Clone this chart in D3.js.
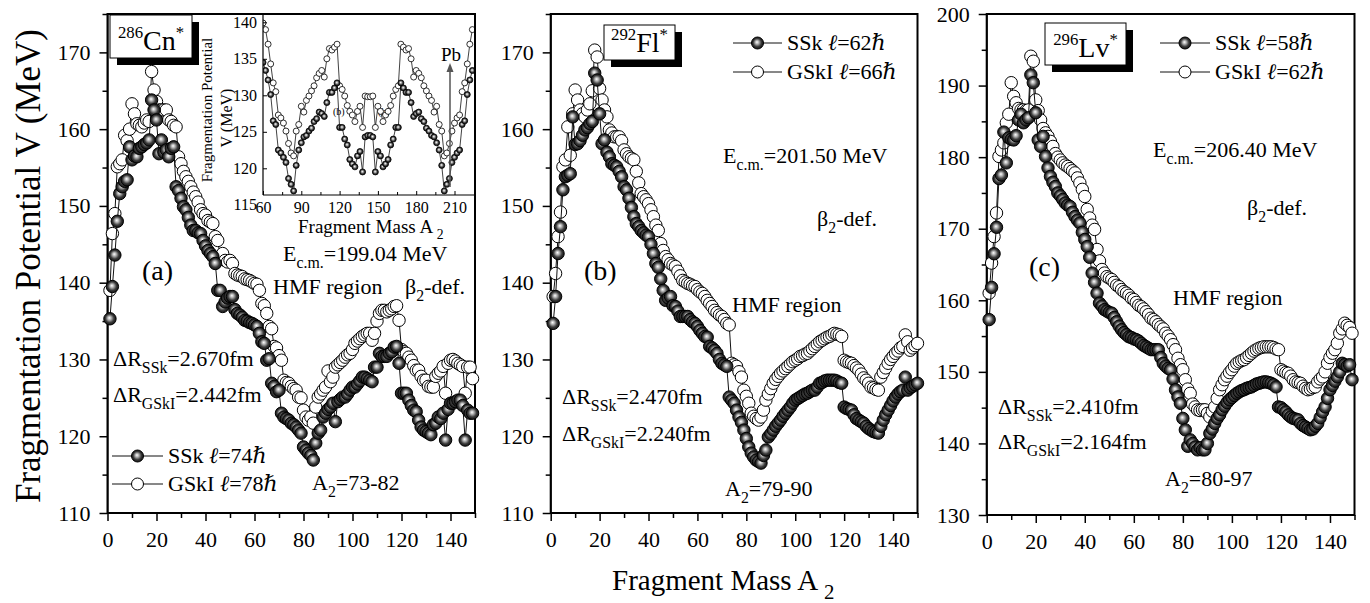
<!DOCTYPE html>
<html>
<head>
<meta charset="utf-8">
<script src="https://cdn.jsdelivr.net/npm/d3@7"></script>
<style>
  body { margin: 0; background: #fff; }
  svg text { font-family: "Liberation Serif", "Times New Roman", "DejaVu Serif", serif; fill: #000; }
</style>
</head>
<body>
<div id="chart"></div>
<script>
// fragment mass A2 = 1 .. 149 (150 for panel b)
const massA = d3.range(1, 150);
const massB = d3.range(1, 151);

// panel (a) 286Cn*
const aSSk = [
  135.3, 139.5, 143.6, 148.0, 151.6, 152.5, 153.2, 153.4, 157.7, 156.0,
  156.5, 156.4, 157.5, 157.7, 158.0, 158.2, 158.6, 163.8, 162.5, 161.2,
  156.8, 158.6, 157.0, 157.3, 156.4, 157.5, 157.7, 152.5, 152.0, 151.0,
  149.9, 149.5, 148.5, 147.5, 146.8, 146.8, 146.5, 146.4, 145.5, 144.8,
  144.2, 143.8, 143.4, 142.5, 139.0, 139.0, 136.9, 137.5, 138.0, 138.2,
  138.2, 136.5, 136.0, 135.8, 135.5, 135.1, 135.0, 134.8, 134.7, 134.5,
  134.3, 133.4, 132.3, 132.1, 129.9, 130.1, 126.9, 126.5, 125.8, 126.0,
  123.0, 122.5, 122.3, 122.1, 121.7, 121.5, 121.2, 120.8, 120.4, 118.6,
  118.2, 117.8, 117.5, 116.9, 119.1, 120.4, 120.8, 122.5, 123.0, 123.5,
  123.8, 124.3, 121.9, 124.5, 124.8, 125.1, 125.1, 125.5, 126.0, 126.4,
  126.4, 126.8, 127.2, 127.7, 127.7, 127.5, 127.3, 127.1, 129.0, 129.0,
  130.8, 130.4, 130.4, 130.4, 130.8, 131.0, 131.6, 131.7, 129.5, 125.6,
  125.6, 125.6, 124.7, 124.0, 123.4, 123.2, 122.1, 121.2, 120.8, 120.6,
  120.4, 120.2, 121.5, 121.7, 122.5, 122.3, 123.0, 119.5, 123.5, 124.3,
  124.3, 124.5, 124.7, 124.7, 124.0, 119.5, 123.4, 123.0, 123.0
];
const aGSkI = [
  139.0, 146.4, 149.0, 155.1, 155.5, 156.0, 159.2, 158.5, 160.0, 163.3,
  162.0, 160.7, 160.5, 160.3, 160.8, 161.2, 161.0, 167.5, 165.1, 163.6,
  162.5, 162.5, 162.5, 162.5, 161.2, 161.0, 160.5, 160.3, 156.4, 155.5,
  154.5, 153.8, 153.2, 152.5, 151.8, 151.2, 150.5, 149.5, 149.0, 148.8,
  148.1, 147.9, 147.7, 146.0, 145.5, 143.4, 143.8, 142.9, 142.7, 142.9,
  142.5, 141.2, 141.0, 140.9, 140.8, 140.5, 140.4, 140.3, 140.1, 139.9,
  139.8, 139.0, 137.3, 137.0, 136.0, 134.3, 134.0, 131.7, 131.5, 130.5,
  129.9, 127.3, 127.0, 126.9, 126.5, 126.2, 126.0, 125.1, 125.0, 123.4,
  122.5, 122.1, 122.5, 121.7, 123.8, 125.1, 125.5, 126.0, 126.4, 128.5,
  127.1, 127.7, 129.0, 129.3, 129.6, 129.9, 130.3, 130.6, 130.8, 131.3,
  132.1, 132.4, 132.7, 133.0, 133.2, 133.4, 133.4, 132.5, 133.4, 135.0,
  136.0, 136.4, 136.4, 136.2, 136.4, 136.6, 136.9, 137.0, 135.1, 131.3,
  131.0, 130.8, 130.3, 129.9, 129.2, 128.6, 128.6, 127.8, 127.3, 127.3,
  126.5, 126.4, 126.4, 127.8, 128.2, 128.5, 129.1, 125.6, 129.5, 129.9,
  130.0, 129.8, 129.5, 129.3, 129.1, 125.6, 129.0, 129.0, 127.5
];

// panel (b) 292Fl*
const bSSk = [
  134.7, 138.2, 143.8, 147.3, 152.1, 153.8, 154.0, 154.2, 161.6, 158.0,
  158.1, 158.5, 159.2, 159.9, 160.2, 160.7, 161.0, 167.3, 166.4, 162.0,
  158.1, 158.6, 157.0, 156.4, 155.5, 155.3, 155.1, 154.5, 153.8, 152.5,
  152.1, 151.0, 149.8, 148.6, 147.7, 147.3, 146.8, 146.5, 146.2, 146.0,
  145.0, 143.8, 142.5, 142.0, 140.5, 139.0, 137.7, 138.0, 138.2, 137.0,
  136.9, 136.3, 135.6, 135.6, 135.6, 135.6, 135.2, 134.9, 134.7, 134.3,
  133.8, 133.4, 133.0, 132.9, 131.7, 131.5, 131.2, 130.8, 130.0, 129.5,
  129.3, 129.1, 125.1, 124.7, 124.3, 123.4, 122.5, 121.8, 120.8, 119.7,
  118.6, 117.8, 117.3, 116.9, 116.7, 116.5, 117.5, 118.2, 119.9, 120.3,
  120.8, 121.3, 121.7, 122.1, 122.6, 123.0, 123.4, 123.8, 124.3, 124.7,
  124.9, 125.1, 125.3, 125.5, 125.6, 125.8, 126.0, 126.0, 126.4, 126.9,
  127.0, 127.2, 127.3, 127.3, 127.3, 127.3, 127.2, 127.0, 126.9, 123.8,
  123.6, 123.5, 123.4, 122.8, 122.3, 122.1, 121.9, 121.7, 121.3, 121.0,
  120.8, 120.6, 120.5, 120.4, 121.3, 122.1, 122.8, 123.4, 124.0, 124.6,
  125.1, 125.5, 125.8, 126.0, 127.7, 126.0, 126.3, 126.5, 126.7, 126.9
];
const bGSkI = [
  138.2, 141.2, 146.0, 149.2, 155.1, 156.0, 160.3, 156.6, 162.0, 165.1,
  163.8, 162.5, 162.0, 161.6, 162.5, 163.3, 165.0, 170.3, 169.4, 165.3,
  163.8, 162.5, 161.6, 159.9, 159.5, 159.0, 159.0, 159.0, 158.5, 157.3,
  156.8, 156.4, 156.2, 156.0, 154.5, 153.0, 151.6, 151.2, 150.8, 150.3,
  149.5, 148.6, 147.5, 146.8, 145.1, 144.2, 143.4, 143.0, 142.5, 142.3,
  142.1, 141.5, 140.9, 140.3, 140.1, 139.9, 139.8, 139.6, 139.5, 139.1,
  138.8, 138.6, 138.2, 137.7, 137.3, 136.9, 136.4, 136.1, 135.8, 135.6,
  135.2, 134.7, 134.5, 129.5, 129.3, 129.1, 128.4, 127.7, 126.0, 125.2,
  124.3, 123.0, 122.6, 122.3, 122.1, 122.5, 123.4, 124.7, 125.5, 126.2,
  126.9, 127.4, 127.8, 128.2, 128.5, 128.8, 129.1, 129.4, 129.7, 129.9,
  130.1, 130.4, 130.5, 130.7, 130.8, 131.1, 131.4, 131.7, 132.0, 132.3,
  132.5, 132.7, 132.9, 133.0, 133.2, 133.4, 133.3, 133.2, 133.0, 129.9,
  129.7, 129.6, 129.5, 129.2, 128.9, 128.6, 128.1, 127.6, 127.3, 126.9,
  126.4, 126.3, 126.1, 126.0, 127.7, 128.3, 128.9, 129.5, 130.0, 130.4,
  130.8, 131.1, 131.5, 131.7, 133.2, 132.3, 131.2, 131.5, 131.8, 132.1
];

// panel (c) 296Lv*
const cSSk = [
  157.3, 161.8, 166.5, 170.2, 177.0, 177.5, 183.5, 179.2, 182.7, 182.5,
  182.4, 183.0, 185.2, 186.0, 184.8, 185.2, 185.5, 191.5, 190.4, 186.2,
  182.4, 181.5, 182.9, 180.1, 178.5, 177.3, 176.5, 175.9, 175.0, 174.6,
  174.1, 173.6, 173.3, 173.1, 172.3, 171.7, 171.2, 170.8, 169.5, 168.5,
  167.5, 166.0, 163.8, 162.5, 161.0, 159.6, 159.2, 158.7, 158.5, 158.3,
  158.2, 157.6, 157.0, 156.4, 155.9, 155.5, 155.2, 154.9, 154.8, 154.6,
  154.5, 154.3, 154.0, 153.7, 153.5, 153.3, 153.1, 153.1, 153.1, 153.1,
  152.0, 151.2, 150.8, 150.5, 150.3, 149.0, 147.5, 146.5, 145.6, 143.5,
  141.9, 139.6, 140.5, 140.0, 139.5, 139.1, 139.4, 139.1, 139.1, 140.0,
  141.4, 142.0, 142.8, 143.5, 144.0, 144.7, 145.2, 145.7, 146.1, 146.4,
  146.7, 147.0, 147.2, 147.4, 147.5, 147.7, 147.8, 147.9, 148.1, 148.3,
  148.4, 148.5, 148.6, 148.6, 148.5, 148.4, 148.2, 147.9, 145.1, 145.0,
  144.7, 144.4, 144.0, 143.7, 143.5, 143.4, 143.3, 142.8, 142.5, 142.3,
  142.1, 141.9, 142.0, 142.4, 142.8, 143.6, 144.4, 145.1, 146.3, 147.5,
  148.1, 148.7, 149.3, 150.0, 151.2, 151.0, 150.8, 151.0, 148.9
];
const cGSkI = [
  161.0, 165.2, 168.9, 172.2, 180.1, 181.0, 182.0, 184.8, 186.0, 190.4,
  188.5, 187.6, 186.8, 186.6, 186.6, 186.5, 186.6, 194.1, 193.4, 188.0,
  186.5, 185.2, 184.0, 183.4, 182.9, 182.2, 181.5, 180.5, 180.0, 179.6,
  179.2, 178.9, 178.7, 178.4, 178.1, 177.8, 177.1, 176.4, 175.5, 174.5,
  172.7, 171.5, 170.5, 169.9, 167.1, 165.5, 164.3, 163.8, 163.3, 163.1,
  162.9, 162.5, 162.1, 161.9, 161.5, 161.2, 161.0, 160.7, 160.3, 160.1,
  159.7, 159.3, 159.1, 158.8, 158.4, 158.0, 157.5, 157.3, 157.0, 156.6,
  156.3, 156.0, 155.4, 155.0, 154.5, 153.8, 153.1, 151.9, 151.0, 150.3,
  148.9, 147.6, 147.0, 145.5, 145.1, 144.7, 144.6, 144.7, 144.7, 144.2,
  143.7, 144.5, 145.1, 146.3, 147.5, 148.2, 148.9, 149.4, 149.9, 150.3,
  150.8, 151.2, 151.4, 151.6, 151.7, 152.0, 152.3, 152.6, 152.9, 153.1,
  153.3, 153.4, 153.5, 153.5, 153.5, 153.5, 153.4, 153.2, 153.1, 150.3,
  150.1, 149.9, 149.8, 149.4, 148.9, 148.6, 148.5, 148.4, 148.0, 147.7,
  147.5, 147.6, 147.8, 147.9, 148.6, 149.0, 149.3, 150.0, 151.2, 152.0,
  152.6, 153.1, 154.0, 155.4, 156.0, 156.8, 156.5, 156.2, 155.4
];

// inset of panel (a): A2 = 60 .. 224, step 2
const insetMass = d3.range(60, 226, 2);
const insetGSkI = [
  139.9, 139.0, 137.0, 134.3, 131.7, 130.5, 127.3, 126.9, 126.2, 125.1,
  123.4, 122.1, 121.7, 125.1, 126.0, 128.5, 127.7, 129.3, 129.9, 130.6,
  131.3, 132.4, 133.0, 133.4, 132.5, 135.0, 136.4, 136.2, 136.6, 137.0,
  131.3, 130.8, 129.9, 128.6, 127.8, 127.3, 126.4, 127.8, 128.5, 125.6,
  129.9, 129.8, 129.8, 129.9, 125.6, 128.5, 127.8, 126.4, 127.3, 127.8,
  128.6, 129.9, 130.8, 131.3, 137.0, 136.6, 136.2, 136.4, 135.0, 132.5,
  133.4, 133.0, 132.4, 131.3, 130.6, 129.9, 129.3, 127.7, 128.5, 126.0,
  125.1, 121.7, 122.1, 123.4, 125.1, 126.2, 126.9, 127.3, 130.5, 131.7,
  134.3, 137.0, 139.0
];
const insetSSk = [
  134.5, 133.4, 132.1, 130.1, 126.5, 126.0, 122.5, 122.1, 121.5, 120.8,
  118.6, 117.8, 116.9, 120.4, 122.5, 123.5, 124.3, 124.5, 125.1, 125.5,
  126.4, 126.8, 127.7, 127.5, 127.1, 129.0, 130.4, 130.4, 131.0, 131.7,
  125.6, 125.6, 124.0, 123.2, 121.2, 120.6, 120.2, 121.7, 122.3, 119.5,
  124.3, 124.5, 124.5, 124.3, 119.5, 122.3, 121.7, 120.2, 120.6, 121.2,
  123.2, 124.0, 125.6, 125.6, 131.7, 131.0, 130.4, 130.4, 129.0, 127.1,
  127.5, 127.7, 126.8, 126.4, 125.5, 125.1, 124.5, 124.3, 123.5, 122.5,
  120.4, 116.9, 117.8, 118.6, 120.8, 121.5, 122.1, 122.5, 126.0, 126.5,
  130.1, 132.1, 133.4
];

// ticks
const xTicks = [0, 20, 40, 60, 80, 100, 120, 140];
const xMinor = [10, 30, 50, 70, 90, 110, 130, 150];
const yTicksAB = [110, 120, 130, 140, 150, 160, 170];
const yMinorAB = [115, 125, 135, 145, 155, 165, 175];
const yTicksC = [130, 140, 150, 160, 170, 180, 190, 200];
const yMinorC = [135, 145, 155, 165, 175, 185, 195];
const insetXTicks = [60, 90, 120, 150, 180, 210];
const insetXMinor = [75, 105, 135, 165, 195];
const insetYTicks = [115, 120, 125, 130, 135, 140];

const svg = d3.select("#chart").append("svg")
  .attr("width", 1370).attr("height", 603);

const defs = svg.append("defs");
const grad = defs.append("radialGradient").attr("id", "ball")
  .attr("cx", "0.5").attr("cy", "0.5").attr("r", "0.55")
  .attr("fx", "0.45").attr("fy", "0.42");
grad.append("stop").attr("offset", "0%").attr("stop-color", "#ffffff");
grad.append("stop").attr("offset", "28%").attr("stop-color", "#b0b0b0");
grad.append("stop").attr("offset", "62%").attr("stop-color", "#3a3a3a");
grad.append("stop").attr("offset", "100%").attr("stop-color", "#0a0a0a");

// text with sub / superscripts
function rich(g, x, y, parts, size, anchor) {
  const t = g.append("text").attr("x", x).attr("y", y)
    .attr("font-size", size).attr("text-anchor", anchor || "start");
  let off = 0;
  parts.forEach(p => {
    const shift = p.sub ? size * 0.3 : p.sup ? -size * 0.42 : 0;
    const s = t.append("tspan").text(p.t).attr("dy", shift - off);
    if (p.sub || p.sup) s.attr("font-size", size * (p.k || 0.72));
    if (p.it) s.attr("font-style", "italic");
    if (p.dx) s.attr("dx", p.dx);
    off = shift;
  });
  return t;
}

function series(g, x, y, mass, vals, filled, r, lw) {
  const line = d3.line().x((d, i) => x(mass[i])).y(d => y(d));
  g.append("path").datum(vals).attr("d", line)
    .attr("fill", "none").attr("stroke", "#111").attr("stroke-width", lw);
  g.append("g").selectAll("circle").data(vals).join("circle")
    .attr("cx", (d, i) => x(mass[i])).attr("cy", d => y(d)).attr("r", r)
    .attr("fill", filled ? "url(#ball)" : "#fff")
    .attr("stroke", "#000").attr("stroke-width", lw);
}

function legendRow(g, x1, x2, y, filled, parts) {
  g.append("line").attr("x1", x1).attr("x2", x2).attr("y1", y).attr("y2", y)
    .attr("stroke", "#111").attr("stroke-width", 1);
  g.append("circle").attr("cx", (x1 + x2) / 2).attr("cy", y).attr("r", 6)
    .attr("fill", filled ? "url(#ball)" : "#fff").attr("stroke", "#000");
  rich(g, x2 + 5, y + 7, parts, 22);
}

function labelBox(g, x, y, w, h, mass, sym) {
  g.append("rect").attr("x", x + 7).attr("y", y + 7).attr("width", w).attr("height", h).attr("fill", "#000");
  g.append("rect").attr("x", x).attr("y", y).attr("width", w).attr("height", h)
    .attr("fill", "#fff").attr("stroke", "#000").attr("stroke-width", 1);
  rich(g, x + w / 2, y + h - 8, [
    { t: mass, sup: true, k: 0.6 }, { t: sym }, { t: "*", sup: true, k: 0.6 }
  ], 28, "middle");
}

function drawPanel(p) {
  const g = svg.append("g");
  const x = d3.scaleLinear([0, 150], [p.left, p.right]);
  const y = d3.scaleLinear(p.yDom, [p.bottom, 14]);

  g.append("g").attr("transform", `translate(0,${p.bottom})`)
    .call(d3.axisBottom(x).tickValues(xTicks).tickSize(8).tickPadding(10).tickSizeOuter(0));
  g.append("g").attr("transform", `translate(0,${p.bottom})`)
    .call(d3.axisBottom(x).tickValues(xMinor).tickSize(5).tickFormat("").tickSizeOuter(0))
    .call(s => s.select(".domain").remove());
  g.append("g").attr("transform", `translate(${p.left},0)`)
    .call(d3.axisLeft(y).tickValues(p.yTicks).tickSize(8).tickPadding(9).tickSizeOuter(0));
  g.append("g").attr("transform", `translate(${p.left},0)`)
    .call(d3.axisLeft(y).tickValues(p.yMinor).tickSize(5).tickFormat("").tickSizeOuter(0))
    .call(s => s.select(".domain").remove());
  g.selectAll(".tick text").attr("font-size", 22).attr("font-family", "Liberation Serif");
  g.selectAll(".tick line").attr("stroke-width", 1.5);
  g.append("rect").attr("x", p.left).attr("y", 14)
    .attr("width", p.right - p.left).attr("height", p.bottom - 14)
    .attr("fill", "none").attr("stroke", "#000").attr("stroke-width", 2);

  series(g, x, y, p.mass, p.gski, false, 6.2, 1);
  series(g, x, y, p.mass, p.ssk, true, 6.2, 1);
  return g;
}

const ga = drawPanel({ left: 107.5, right: 475, bottom: 513, yDom: [110, 175],
  yTicks: yTicksAB, yMinor: yMinorAB, mass: massA, ssk: aSSk, gski: aGSkI });
const gb = drawPanel({ left: 550.7, right: 917.5, bottom: 513, yDom: [110, 175],
  yTicks: yTicksAB, yMinor: yMinorAB, mass: massB, ssk: bSSk, gski: bGSkI });
const gc = drawPanel({ left: 986.7, right: 1354.5, bottom: 515, yDom: [130, 200],
  yTicks: yTicksC, yMinor: yMinorC, mass: massA, ssk: cSSk, gski: cGSkI });

// ---- inset in panel (a)
const ins = ga.append("g");
defs.append("clipPath").attr("id", "insclip").append("rect")
  .attr("x", 263).attr("y", 14).attr("width", 211).attr("height", 181);
const ix = d3.scaleLinear([60, 210], [263, 454.5]);
const iy = d3.scaleLinear([120, 140], [168.3, 22.3]);
ins.append("text").attr("x", 333).attr("y", 115).attr("font-size", 10).attr("fill", "#555").text("(b)");
ins.append("text").attr("x", 378).attr("y", 115).attr("font-size", 10).attr("fill", "#555").text("(b)");
const insData = ins.append("g").attr("clip-path", "url(#insclip)");
series(insData, ix, iy, insetMass, insetGSkI, false, 3, 0.8);
series(insData, ix, iy, insetMass, insetSSk, true, 3, 0.8);
ins.append("line").attr("x1", 263).attr("x2", 263).attr("y1", 14).attr("y2", 195).attr("stroke", "#000").attr("stroke-width", 1.2);
ins.append("line").attr("x1", 263).attr("x2", 474).attr("y1", 195).attr("y2", 195).attr("stroke", "#000").attr("stroke-width", 1.2);
ins.append("g").attr("transform", "translate(0,195)")
  .call(d3.axisBottom(ix).tickValues(insetXTicks).tickSize(-4).tickPadding(7).tickSizeOuter(0));
ins.append("g").attr("transform", "translate(0,195)")
  .call(d3.axisBottom(ix).tickValues(insetXMinor).tickSize(-3).tickFormat("").tickSizeOuter(0));
const iya = ins.append("g").attr("transform", "translate(263,0)")
  .call(d3.axisLeft(iy).tickValues(insetYTicks).tickSize(-4).tickPadding(6).tickSizeOuter(0));
ins.selectAll(".domain").remove();
ins.selectAll(".tick text").attr("font-size", 16).attr("font-family", "Liberation Serif");
iya.selectAll(".tick").filter(d => d === 115).select("line").remove();
ins.append("text").attr("transform", "translate(212,110) rotate(-90)")
  .attr("text-anchor", "middle").attr("font-size", 15).text("Fragmentation Potential");
ins.append("text").attr("transform", "translate(232,118) rotate(-90)")
  .attr("text-anchor", "middle").attr("font-size", 16).text("V (MeV)");
rich(ins, 298, 233, [{ t: "Fragment Mass A " }, { t: "2", sub: true }], 19);
// Pb arrow
ins.append("line").attr("x1", 450).attr("x2", 450).attr("y1", 187).attr("y2", 70)
  .attr("stroke", "#555").attr("stroke-width", 1.5);
ins.append("path").attr("d", "M450,63 L446.5,72 L453.5,72 Z").attr("fill", "#555");
ins.append("text").attr("x", 441).attr("y", 61).attr("font-size", 19).text("Pb");

// ---- annotations panel (a)
labelBox(ga, 110, 15, 82, 43, "286", "Cn");
ga.append("text").attr("x", 142).attr("y", 280).attr("font-size", 28).text("(a)");
rich(ga, 283, 261, [{ t: "E" }, { t: "c.m.", sub: true }, { t: "=199.04 MeV" }], 22);
ga.append("text").attr("x", 273).attr("y", 294).attr("font-size", 22).text("HMF region");
rich(ga, 405, 294, [{ t: "β" }, { t: "2", sub: true }, { t: "-def." }], 22);
rich(ga, 113, 366, [{ t: "ΔR" }, { t: "SSk", sub: true }, { t: "=2.670fm" }], 22);
rich(ga, 113, 402, [{ t: "ΔR" }, { t: "GSkI", sub: true }, { t: "=2.442fm" }], 22);
legendRow(ga, 112, 163, 456, true, [{ t: "SSk " }, { t: "ℓ", it: true }, { t: "=74" }, { t: "ℏ", it: true }]);
legendRow(ga, 112, 163, 484, false, [{ t: "GSkI " }, { t: "ℓ", it: true }, { t: "=78" }, { t: "ℏ", it: true }]);
rich(ga, 312, 490, [{ t: "A" }, { t: "2", sub: true }, { t: "=73-82" }], 22);

// ---- annotations panel (b)
labelBox(gb, 604, 25, 71, 35, "292", "Fl");
gb.append("text").attr("x", 584).attr("y", 280).attr("font-size", 28).text("(b)");
legendRow(gb, 733, 782, 43, true, [{ t: "SSk " }, { t: "ℓ", it: true }, { t: "=62" }, { t: "ℏ", it: true }]);
legendRow(gb, 733, 782, 72, false, [{ t: "GSkI " }, { t: "ℓ", it: true }, { t: "=66" }, { t: "ℏ", it: true }]);
rich(gb, 723, 163, [{ t: "E" }, { t: "c.m.", sub: true }, { t: "=201.50 MeV" }], 22);
rich(gb, 817, 226, [{ t: "β" }, { t: "2", sub: true }, { t: "-def." }], 22);
gb.append("text").attr("x", 732).attr("y", 312).attr("font-size", 22).text("HMF region");
rich(gb, 562, 404, [{ t: "ΔR" }, { t: "SSk", sub: true }, { t: "=2.470fm" }], 22);
rich(gb, 562, 441, [{ t: "ΔR" }, { t: "GSkI", sub: true }, { t: "=2.240fm" }], 22);
rich(gb, 725, 496, [{ t: "A" }, { t: "2", sub: true }, { t: "=79-90" }], 22);

// ---- annotations panel (c)
labelBox(gc, 1045, 23, 81, 42, "296", "Lv");
gc.append("text").attr("x", 1029).attr("y", 276).attr("font-size", 28).text("(c)");
legendRow(gc, 1160, 1210, 43, true, [{ t: "SSk " }, { t: "ℓ", it: true }, { t: "=58" }, { t: "ℏ", it: true }]);
legendRow(gc, 1160, 1210, 72, false, [{ t: "GSkI " }, { t: "ℓ", it: true }, { t: "=62" }, { t: "ℏ", it: true }]);
rich(gc, 1153, 157, [{ t: "E" }, { t: "c.m.", sub: true }, { t: "=206.40 MeV" }], 22);
rich(gc, 1247, 215, [{ t: "β" }, { t: "2", sub: true }, { t: "-def." }], 22);
gc.append("text").attr("x", 1173).attr("y", 305).attr("font-size", 22).text("HMF region");
rich(gc, 998, 414, [{ t: "ΔR" }, { t: "SSk", sub: true }, { t: "=2.410fm" }], 22);
rich(gc, 998, 449, [{ t: "ΔR" }, { t: "GSkI", sub: true }, { t: "=2.164fm" }], 22);
rich(gc, 1165, 486, [{ t: "A" }, { t: "2", sub: true }, { t: "=80-97" }], 22);

// ---- axis titles
svg.append("text").attr("transform", "translate(40,266) rotate(-90)")
  .attr("text-anchor", "middle").attr("font-size", 35).text("Fragmentation Potential V (MeV)");
rich(svg, 612, 590, [{ t: "Fragment Mass A " }, { t: "2", sub: true }], 29);
</script>
</body>
</html>
